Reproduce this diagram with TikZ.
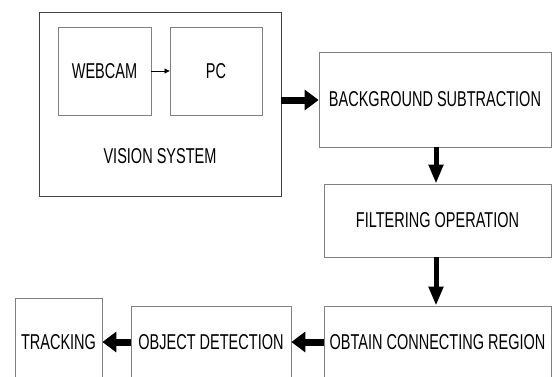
\documentclass[tikz,border=0pt]{standalone}
\usepackage{fontspec}
\setmainfont{Liberation Sans}[FakeStretch=0.675]
\usetikzlibrary{arrows.meta}
\tikzset{
  box/.style={draw=black!50, line width=0.8pt, fill=white, inner sep=0pt, font=\fontsize{21.5}{24}\selectfont},
  outerbox/.style={draw=black!75, line width=0.8pt, inner sep=0pt},
  fath/.style={line width=7pt, -{Triangle[length=14pt,width=20pt]}},
  fatv/.style={line width=5pt, -{Triangle[length=19pt,width=14pt]}},
  thin/.style={line width=0.7pt, -{Triangle[length=5pt,width=5pt]}},
  lbl/.style={font=\fontsize{21.5}{24}\selectfont, inner sep=0pt}
}
\begin{document}
\begin{tikzpicture}[x=1pt,y=-1pt]
\clip (0,0) rectangle (552,376);
\fill[white] (0,0) rectangle (552,376);
% vision system
\node[outerbox, minimum width=242pt, minimum height=184pt] (vs) at (160,104) {};
\node[lbl] (vslbl) at (160,156) {VISION SYSTEM};
\node[box, minimum width=93pt, minimum height=88pt] (cam) at (104.5,71) {WEBCAM};
\node[box, minimum width=92pt, minimum height=88pt] (pc) at (216,71) {PC};
\draw[thin] (cam.east) -- (pc.west);
% pipeline
\node[box, minimum width=232pt, minimum height=95pt] (bg) at (435,99.5) {BACKGROUND SUBTRACTION};
\node[box, minimum width=227pt, minimum height=73pt] (filt) at (437.5,220.5) {FILTERING OPERATION};
\node[box, minimum width=227pt, minimum height=72pt] (obt) at (437.5,342) {OBTAIN CONNECTING REGION};
\node[box, minimum width=160pt, minimum height=72pt] (od) at (211,342) {OBJECT DETECTION};
\node[box, minimum width=87pt, minimum height=88pt] (trk) at (58.5,342) {TRACKING};
% connectors
\draw[fath] (vs.east |- 0,100) -- (bg.west |- 0,100);
\draw[fatv] (bg.south -| 436,0) -- (filt.north -| 436,0);
\draw[fatv] (filt.south -| 436,0) -- (obt.north -| 436,0);
\draw[fath] (obt.west) -- (od.east);
\draw[fath] (od.west) -- (trk.east);
\end{tikzpicture}
\end{document}
